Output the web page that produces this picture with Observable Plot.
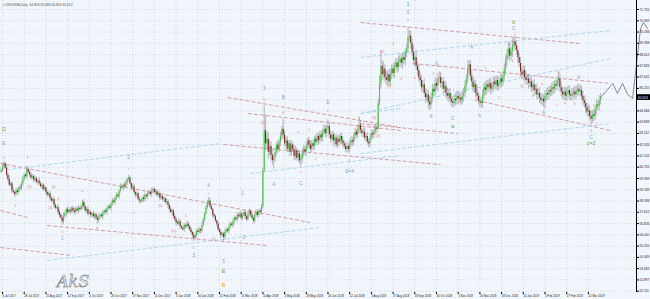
<!DOCTYPE html>
<html><head><meta charset="utf-8">
<script src="https://cdn.jsdelivr.net/npm/d3@7"></script>
<script src="https://cdn.jsdelivr.net/npm/@observablehq/plot@0.6"></script>
<style>body{margin:0;background:#f0f6fb}</style>
</head><body><div id="chart"></div><script>
// ---- data ----
const startBar = -1;        // bar index of the first candle (bar 0 = 6 Jul 2017)
const firstOpen = 60.40;
const close = [
60.55,60.8,61.0,60.7,60.2,59.9,59.5,59.6,59.1,59.0,
58.85,59.1,59.0,59.3,59.25,59.6,59.9,60.2,60.1,60.6,
60.4,60.2,60.0,60.1,59.85,59.95,59.7,59.8,59.6,59.4,
59.5,59.2,59.3,59.0,58.8,58.9,58.6,58.4,58.5,58.1,
57.9,57.95,57.6,57.4,57.2,56.95,57.3,57.5,57.8,57.6,
57.75,57.65,57.9,57.7,57.6,57.85,57.7,57.9,57.8,58.0,
58.3,58.0,57.7,57.8,57.5,57.6,57.4,57.5,57.3,57.45,
57.2,57.05,57.3,57.4,57.3,57.55,57.7,57.6,57.85,58.0,
57.9,58.2,58.4,58.3,58.6,58.8,58.7,59.1,59.4,59.3,
59.5,59.4,59.7,59.9,60.0,59.6,59.3,59.4,59.0,58.8,
58.9,58.5,58.4,58.35,58.6,58.5,58.8,58.7,58.9,59.0,
58.85,59.1,59.2,59.0,59.05,58.8,58.9,58.6,58.7,58.5,
58.55,58.3,58.35,58.1,57.8,57.6,57.7,57.3,57.1,56.9,
56.8,56.95,56.6,56.5,56.4,56.7,56.6,56.8,56.6,56.4,
56.2,56.0,55.8,56.0,56.3,56.2,56.4,56.3,56.7,57.1,
57.5,57.9,58.3,58.4,58.0,57.8,57.4,57.3,57.0,56.8,
56.4,56.2,56.0,56.1,55.85,56.2,56.4,56.3,56.6,56.8,
56.7,57.0,57.2,57.1,57.4,57.3,57.5,57.2,57.4,57.6,
57.3,57.1,57.5,57.7,57.4,57.2,57.0,57.4,57.6,57.4,
57.7,57.6,58.0,60.5,63.3,62.4,62.7,61.8,62.2,61.6,
61.2,61.4,61.8,62.3,62.0,62.5,62.9,63.4,63.0,62.4,
62.6,62.0,62.4,61.8,62.3,62.0,61.5,61.9,61.4,61.7,
61.2,61.3,61.7,62.0,61.8,62.2,62.6,62.3,62.0,62.4,
62.2,62.7,62.5,62.9,62.6,63.0,62.8,63.2,63.4,63.1,
63.5,63.6,63.0,62.7,63.0,62.6,62.8,62.3,62.7,62.5,
62.9,62.6,62.4,62.2,62.0,62.2,62.0,62.4,62.6,62.5,
62.9,63.2,63.0,63.4,63.7,63.3,63.1,63.2,62.8,62.9,
62.5,62.4,62.8,63.1,63.0,63.3,63.5,63.4,65.2,66.5,
67.8,67.2,67.6,67.0,66.8,67.2,66.7,67.2,67.6,67.3,
67.8,68.0,67.7,68.1,68.3,68.0,68.4,68.2,68.7,69.0,
69.8,69.9,69.4,68.8,68.2,68.4,67.8,67.5,67.0,66.8,
66.3,66.5,65.9,65.6,65.8,65.3,65.1,65.6,66.2,66.0,
66.6,66.4,66.9,67.0,66.6,66.7,66.2,66.4,65.9,65.7,
65.9,65.5,65.3,65.2,65.5,65.4,65.7,65.5,65.6,65.4,
65.7,65.9,66.4,66.9,67.6,67.9,67.1,66.7,66.3,66.5,
65.9,65.7,65.4,65.3,65.2,65.8,66.3,66.1,66.5,66.3,
66.6,66.2,66.4,66.7,66.5,66.8,66.4,66.6,66.9,66.7,
67.1,67.6,68.2,68.6,69.0,68.5,68.8,69.3,69.5,69.2,
68.9,68.4,68.0,67.4,67.2,67.5,67.0,66.8,66.9,66.6,
66.7,66.3,66.5,66.1,66.2,65.8,65.9,65.6,65.4,65.5,
65.3,65.7,65.9,65.8,66.1,66.0,66.3,66.2,66.5,66.4,
66.8,66.9,66.3,66.0,65.8,66.0,65.7,65.9,66.1,65.8,
65.7,65.9,66.0,65.8,66.1,66.2,66.0,66.1,65.7,65.4,
65.2,64.9,64.6,64.7,64.3,64.1,64.4,64.3,64.8,65.1,
65.0,65.4,65.613];
const upperWick = [
.15,.2,.15,.1,.2,.15,.25,.1,.15,.2, .1,.2,.15,.1,.25,.15,.2,.1,.15,.2,
.15,.1,.2,.15,.1,.2,.15,.1,.25,.15, .1,.15,.2,.1,.15,.1,.2,.15,.1,.2,
.15,.1,.2,.15,.1,.2,.25,.15,.1,.2, .15,.2,.1,.15,.2,.1,.15,.2,.1,.15,
.15,.2,.1,.15,.2,.1,.15,.1,.2,.15, .1,.15,.2,.1,.15,.2,.1,.15,.2,.1,
.15,.1,.2,.15,.1,.2,.15,.1,.2,.15, .1,.2,.15,.1,.2,.15,.1,.2,.15,.1,
.15,.1,.2,.15,.1,.2,.15,.1,.2,.15, .1,.2,.15,.1,.2,.15,.1,.2,.15,.1,
.15,.1,.2,.15,.1,.2,.15,.1,.2,.15, .1,.2,.15,.1,.2,.15,.1,.2,.15,.1,
.15,.1,.2,.15,.1,.2,.15,.1,.2,.15, .1,.2,.15,.25,.2,.15,.1,.2,.15,.1,
.15,.1,.2,.15,.1,.2,.15,.1,.2,.15, .1,.2,.15,.1,.2,.15,.1,.2,.15,.1,
.15,.1,.2,.15,.1,.2,.15,.1,.2,.15, .1,.2,.15,.2,1.76,1.1,.4,.5,.4,.3,
.3,.25,.3,.2,.3,.25,.3,.2,.75,.3, .25,.3,.2,.25,.3,.2,.25,.3,.2,.25,
.2,.25,.3,.2,.25,.3,.2,.25,.3,.2, .25,.2,.3,.25,.2,.3,.25,.2,.3,.25,
.2,.48,.25,.3,.2,.25,.3,.2,.25,.3, .2,.25,.3,.2,.25,.3,.2,.25,.3,.2,
.25,.3,.2,.25,.5,.3,.2,.25,.3,.2, .25,.2,.3,.25,.2,.3,.25,.2,.3,.6,
1.1,.4,.5,.3,.4,.3,.35,.4,.3,.35, .3,.35,.3,.4,.3,.35,.3,.4,.3,.35,
.7,.4,.35,.3,.4,.3,.35,.3,.4,.3, .35,.3,.4,.3,.35,.3,.4,.3,.35,.3,
.4,.3,.35,.4,.3,.35,.3,.4,.3,.35, .3,.35,.3,.4,.3,.35,.3,.4,.3,.35,
.3,.35,.4,.3,.35,.3,.3,.4,.3,.35, .3,.35,.3,.4,.3,.35,.3,.4,.3,.35,
.3,.35,.3,.4,.3,.35,.3,.4,.3,.35, .3,.35,.3,.4,.5,.35,.3,.4,.3,.35,
.3,.35,.3,.4,.3,.35,.3,.4,.3,.35, .3,.35,.3,.4,.3,.35,.3,.4,.3,.35,
.3,.35,.3,.4,.3,.35,.3,.4,.3,.35, .3,.46,.3,.4,.3,.35,.3,.4,.3,.35,
.3,.35,.3,.4,.3,.35,.3,.4,.3,.35, .3,.35,.3,.4,.3,.35,.3,.4,.3,.35,
.3,.35,.3];
const lowerWick = [
.1,.15,.2,.1,.15,.2,.1,.15,.2,.1, .2,.15,.1,.2,.15,.1,.2,.15,.1,.2,
.1,.2,.15,.1,.2,.15,.1,.2,.15,.1, .2,.15,.1,.2,.15,.1,.2,.15,.1,.2,
.15,.1,.2,.15,.1,.25,.15,.1,.2,.15, .1,.2,.15,.1,.2,.15,.1,.2,.15,.1,
.2,.15,.1,.2,.15,.1,.2,.15,.1,.2, .15,.25,.2,.15,.1,.2,.15,.1,.2,.15,
.1,.2,.15,.1,.2,.15,.1,.2,.15,.1, .2,.15,.1,.2,.15,.1,.2,.15,.1,.2,
.15,.1,.2,.15,.1,.2,.15,.1,.2,.15, .1,.2,.15,.1,.2,.15,.1,.2,.15,.1,
.2,.15,.1,.2,.15,.1,.2,.15,.1,.2, .15,.1,.2,.15,.1,.2,.15,.1,.2,.15,
.1,.2,.24,.1,.2,.15,.1,.2,.15,.1, .2,.15,.1,.2,.15,.1,.2,.15,.1,.2,
.15,.1,.2,.15,.29,.2,.15,.1,.2,.15, .1,.2,.15,.1,.2,.15,.1,.2,.15,.1,
.2,.15,.1,.2,.15,.1,.2,.15,.1,.2, .15,.1,.2,.15,.1,.5,.4,.5,.3,.4,
.3,.6,.3,.25,.3,.2,.3,.25,.3,.2, .3,.25,.2,.3,.25,.2,.3,.25,.2,.3,
.25,.45,.3,.2,.25,.3,.2,.25,.3,.2, .25,.3,.2,.25,.3,.2,.25,.3,.2,.25,
.3,.2,.25,.3,.2,.25,.3,.2,.25,.3, .2,.25,.3,.2,.25,.2,.3,.2,.25,.3,
.25,.3,.2,.25,.3,.2,.25,.3,.2,.25, .2,.3,.25,.2,.3,.25,.2,.3,.1,.2,
.3,.4,.3,.35,.3,.4,.25,.3,.35,.3, .35,.3,.4,.3,.35,.3,.4,.3,.35,.3,
.3,.35,.4,.3,.35,.4,.3,.35,.3,.4, .3,.35,.3,.4,.3,.35,.4,.3,.35,.3,
.35,.3,.4,.3,.35,.3,.4,.3,.35,.3, .4,.3,.35,.3,.3,.35,.3,.4,.3,.35,
.3,.4,.3,.35,.3,.4,.3,.35,.3,.4, .3,.35,.3,.4,.3,.35,.3,.4,.3,.35,
.3,.4,.3,.35,.3,.4,.3,.35,.3,.4, .3,.35,.3,.4,.3,.35,.3,.4,.3,.35,
.3,.4,.3,.35,.3,.4,.3,.35,.3,.4, .3,.35,.3,.4,.3,.35,.3,.4,.3,.35,
.38,.35,.3,.4,.3,.35,.3,.4,.3,.35, .3,.4,.3,.35,.3,.4,.3,.35,.3,.4,
.3,.35,.3,.4,.3,.35,.3,.4,.3,.35, .3,.4,.3,.35,.3,.44,.3,.35,.3,.4,
.3,.35,.3];

const xTickBars = [0,16,32,48,64,80,96,112,128,144,160,176,192,208,224,240,256,272,288,304,320,336,352,368,384,400,416,432];
const xTickLabels = ["6 Jul 2017","28 Jul 2017","21 Aug 2017","12 Sep 2017","4 Oct 2017","26 Oct 2017","17 Nov 2017","11 Dec 2017","3 Jan 2018","30 Jan 2018","21 Feb 2018","15 Mar 2018","10 Apr 2018","3 May 2018","28 May 2018","20 Jun 2018","12 Jul 2018","3 Aug 2018","27 Aug 2018","18 Sep 2018","10 Oct 2018","1 Nov 2018","26 Nov 2018","18 Dec 2018","14 Jan 2019","5 Feb 2019","27 Feb 2019","22 Mar 2019"];
const yTicks = [71.755,70.969,70.184,69.398,68.612,67.826,67.041,66.255,65.469,64.684,63.898,63.112,62.326,61.541,60.755,59.969,59.183,58.398,57.612,56.826,56.040,55.255,54.469,53.683,52.897,52.111];
const titleText = "\u25BE USDRUB,Daily  64.803 65.686 64.806 65.613";
const lastPrice = 65.613;

// trend lines [bar1, price1, bar2, price2]
const pinkLines = [
 [-1.5,61.02,227,56.90],[33,56.69,195,55.30],[-1.5,57.74,18.4,57.25],[-1.5,55.16,51.6,54.60],
 [166,65.62,293.5,63.53],[181,64.50,293.5,63.32],[163,62.34,323,60.94],
 [264,70.85,426,69.38],[303,67.99,448,66.60],[350,65.41,448,63.32],[264,63.80,335.5,63.10]
];
const blueLines = [
 [-1.5,60.53,161,62.41],[33,54.25,234.5,56.55],[183,60.32,293.5,61.57],[264,64.50,293.5,64.85],
 [264,68.41,448,70.29],[264,64.50,448,68.34],[264,61.71,448,63.80]
];
// projection drawn after the last candle [bar, price]
const projection = [[441,65.61],[445.5,66.1],[450,66.6],[453.5,65.9],[457.2,66.6],[461,65.83],[464.6,65.55],[470.5,70.43],[472.7,70.85],[475.6,70.43]];

// wave labels [text, bar, price]
const blueLabels = [["E",1,62.41],["1",44,55.79],["2",93,61.43],["3",141,54.6],["4",152,59.48],["5",163,54.18],
 ["1",177,58.92],["2",178,55.85],["3",193,66.25],["A",200,59.55],["B",207,65.62],["C",220,59.62],["D",240,65.27],
 ["E=4",256,60.46],["5",299,71.55],["A",316,64.29],["b",320,67.99],["C",332,64.15],["A",346,69.1],["b",352,64.36],
 ["C",377,70.43],["A",399,64.57],["b",425,67.01],["C",434,62.83]];
const greenLabels = [["D",1,63.39],["E",163,53.48],["1",299,72.1],["a",332,63.6],["b",377,70.85],["c=2",434,62.41]];
const orangeLabels = [["B",163,52.51]];
const redLabels = [["5",1.5,61.43],["3",18.4,61.43],["1",9.6,58.09],["(2)",19.9,59.41],["(3)",35.4,57.95],["(4)",37.6,59.41],
 ["4",41.3,58.57],["5",44.2,56.27],["a",59,59.13],["b",70,56.55],["c",92.9,60.67],["ii",96.6,57.6],["(iii)",116.5,58.09],
 ["4",135,57.39],["(iv)",126.1,56.34],["5",140.9,55.16],["c",151.9,58.99],["(5)",155.6,55.79],
 ["5",193,65.48],["(3)",192,63.87],["b",207,64.57],["a",218,63.25],["1",226,63.39],["c",240,64.71],["4",210,62.13],
 ["2",231,61.36],["c",220,60.45],["1",263,64.22],["(3)",274,64.22],["(4)",277,62.97],["3",244,62.27],["5",256,61.22],
 ["3",288,69.39],["(3)",280,68.83],["(4)",285,66.45],["4",294,66.94],["5",299,71.06],["1",305,68.9],["a",304,67.01],
 ["5",318,67.29],["1",321,67.85],["2",323,67.29],["5",314,64.92],["a",328,66.25],["c",333,66.18],["1",338,65.41],
 ["3",343,68.13],["4",350,66.38],["5",349,65.41],["1",356,67.71],["2",366,65.62],["3",374,69.39],["5",378,70.01],
 ["4",376,68.2],["1",382,67.22],["(i)",383,66.45],["iii",391,65.76],["a",398,66.59],["5",400,64.92],["B",410,67.36],
 ["c",409,65.13],["a",415,65.27],["b",422,65.2],["c",430,65.76],["1",436,65.06],["5",434,63.32],["2",438,63.74]];
const signature = "AkS";

// ---- build ----
const bars = close.map((c, k) => {
  const o = k === 0 ? firstOpen : close[k - 1];
  return {bar: k + startBar, o, c, h: Math.max(o, c) + upperWick[k], l: Math.min(o, c) - lowerWick[k]};
});
const toLine = a => ({b1: a[0], p1: a[1], b2: a[2], p2: a[3]});
const toLab = a => ({t: a[0], b: a[1], p: a[2]});
const xLabelOf = new Map(xTickBars.map((b, k) => [b, xTickLabels[k]]));
// the price-scale label hidden under the current-price box
const shownYTicks = yTicks.filter(v => Math.abs(v - lastPrice) > 0.3);
const font = "Liberation Sans, Arial, sans-serif";

const chart = Plot.plot({
  width: 650, height: 299,
  marginTop: 0, marginRight: 14, marginBottom: 7, marginLeft: 0,
  style: {background: "#f0f6fb", fontFamily: font, overflow: "visible"},
  x: {domain: [-1.475, 467.5], axis: null},
  y: {domain: [52.02, 72.383], axis: null},
  marks: [
    Plot.gridX(xTickBars, {stroke: "#aab4be", strokeOpacity: 0.8, strokeDasharray: "1,2", strokeWidth: 0.6}),
    Plot.gridY(yTicks, {stroke: "#aab4be", strokeOpacity: 0.8, strokeDasharray: "1,2", strokeWidth: 0.6}),
    Plot.link(pinkLines.map(toLine), {x1: "b1", y1: "p1", x2: "b2", y2: "p2", stroke: "#d4919a", strokeWidth: 0.9, strokeDasharray: "4,2"}),
    Plot.link(blueLines.map(toLine), {x1: "b1", y1: "p1", x2: "b2", y2: "p2", stroke: "#a9d3ef", strokeWidth: 0.9, strokeDasharray: "4,2"}),
    Plot.ruleX(bars, {x: "bar", y1: "l", y2: "h", stroke: "#8e8e8e", strokeWidth: 0.6}),
    Plot.ruleX(bars.filter(d => d.c >= d.o), {x: "bar", y1: "o", y2: d => Math.max(d.c, d.o + 0.06), stroke: "#46c846", strokeWidth: 1.1}),
    Plot.ruleX(bars.filter(d => d.c < d.o), {x: "bar", y1: "o", y2: "c", stroke: "#7a2424", strokeWidth: 1.1}),
    Plot.line(projection, {x: d => d[0], y: d => d[1], stroke: "#6d6d6d", strokeWidth: 0.8}),
    Plot.text(redLabels.map(toLab), {x: "b", y: "p", text: "t", fill: "#e87878", fontSize: 3.4}),
    Plot.text(blueLabels.map(toLab), {x: "b", y: "p", text: "t", fill: "#7b9fcf", fontSize: 4.6}),
    Plot.text(greenLabels.map(toLab), {x: "b", y: "p", text: "t", fill: "#4caf50", fontSize: 5.4}),
    Plot.text(orangeLabels.map(toLab), {x: "b", y: "p", text: "t", fill: "#f5a623", fontSize: 5.6}),
    Plot.text([signature], {x: 52, y: 52.75, text: d => d, fill: "none", stroke: "#555", strokeWidth: 0.45, fontSize: 16, fontStyle: "italic", fontFamily: "DejaVu Serif"}),
    Plot.text([titleText], {frameAnchor: "top-left", dx: 2, dy: 3, text: d => d, fill: "#555", fontSize: 3.3, textAnchor: "start"}),
    Plot.ruleX([467.5], {stroke: "#000", strokeWidth: 1}),
    Plot.axisX(xTickBars, {anchor: "bottom", tickSize: 2, tickPadding: 0.5, fontSize: 2.9, textAnchor: "start", tickFormat: d => xLabelOf.get(d), stroke: "#000", fill: "#222"}),
    Plot.axisY(shownYTicks, {anchor: "right", tickSize: 2, tickPadding: 1, fontSize: 3.2, tickFormat: d => d.toFixed(3), fill: "#222"}),
    Plot.rect([lastPrice], {x1: 467.8, x2: 478, y1: d => d - 0.2, y2: d => d + 0.2, fill: "#000"}),
    Plot.text([lastPrice], {x: 468.6, y: d => d, text: d => d.toFixed(3), fill: "#fff", fontSize: 3.2, textAnchor: "start"})
  ]
});
document.getElementById("chart").appendChild(chart);
</script></body></html>
